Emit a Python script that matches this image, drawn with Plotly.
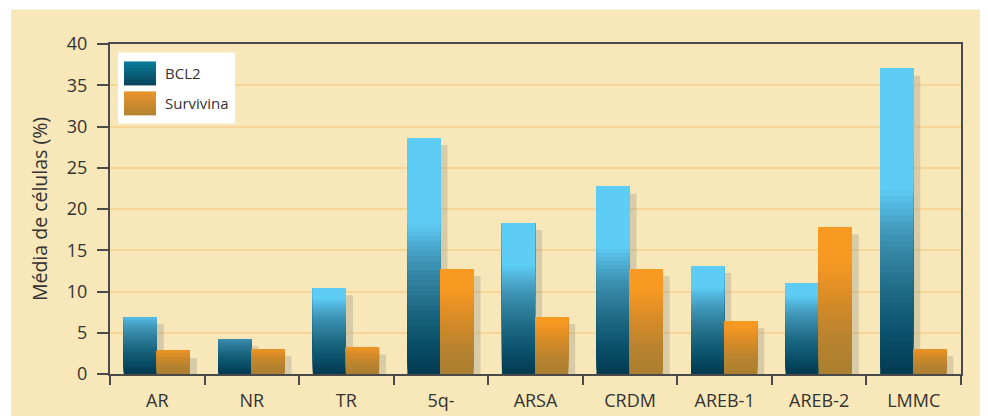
import plotly.graph_objects as go

# ---------------- data ----------------
categories = ["AR", "NR", "TR", "5q-", "ARSA", "CRDM", "AREB-1", "AREB-2", "LMMC"]
bcl2 = [6.9, 4.2, 10.4, 28.6, 18.3, 22.7, 13.1, 11.0, 37.0]
survivina = [2.8, 3.0, 3.2, 12.7, 6.9, 12.7, 6.4, 17.8, 3.0]
series_names = ["BCL2", "Survivina"]
y_ticks = [0, 5, 10, 15, 20, 25, 30, 35, 40]
y_title = "Média de células (%)"

# ---------------- layout geometry / styles ----------------
# page body has an 8px margin; the figure is sized so that the drawing
# lands at the reference pixel positions
OFF = 8
W, H = 988 - OFF, 416 - OFF
PLOT_L, PLOT_R, PLOT_T, PLOT_B = 110, 961, 43.5, 374   # reference pixels
L = PLOT_L - OFF
R = W - (PLOT_R - OFF)
T = PLOT_T - OFF
B = H - (PLOT_B - OFF)
PW, PH = W - L - R, H - T - B
YMAX = 40
FONT = "Open Sans"
TXT = "#333333"
AXC = "#4a4a4a"

def pxx(px):
    return (px - PLOT_L) / PW

def pxy(py):
    return (PLOT_B - py) / PH

def h2r(h):
    h = h.lstrip("#")
    return [int(h[i:i + 2], 16) for i in (0, 2, 4)]

def grad(stops, f):
    f = max(0.0, min(1.0, f))
    for (f0, c0), (f1, c1) in zip(stops, stops[1:]):
        if f <= f1:
            t = (f - f0) / (f1 - f0) if f1 > f0 else 0
            a, b = h2r(c0), h2r(c1)
            return "rgb(%d,%d,%d)" % tuple(round(a[i] + (b[i] - a[i]) * t) for i in range(3))
    return "rgb(%d,%d,%d)" % tuple(h2r(stops[-1][1]))

blue_stops = [(0.0, "#033a50"), (0.2, "#0a4f6a"), (0.4, "#19657f"), (0.6, "#2f7f9d"),
              (0.75, "#3f95b6"), (0.88, "#4fb0d6"), (1.0, "#5ecdf6")]
orange_stops = [(0.0, "#aa7f30"), (0.3, "#b88330"), (0.6, "#d38a28"),
                (0.85, "#ec9325"), (1.0, "#f89a22")]

def blue_top(v):
    return 4 + 0.5 * v

def orange_top(v):
    return 1.5 + 0.7 * v

BAR_W = 0.35
OFFS = [-0.355, -0.005]
CAT_PX = PW / len(categories)
SH_DX = 7 / CAT_PX
SH_DY = 7 / (PH / YMAX)
SHADOW = "rgba(150,148,135,0.33)"
N = 48

fig = go.Figure()

series = [(bcl2, blue_stops, blue_top), (survivina, orange_stops, orange_top)]

# shadows first
for (vals, _, _), off in zip(series, OFFS):
    fig.add_trace(go.Bar(
        x=categories, y=[max(v - SH_DY, 0) for v in vals],
        offset=off + SH_DX, width=BAR_W,
        marker=dict(color=SHADOW, line=dict(width=0)),
        hoverinfo="skip", showlegend=False))

# gradient bars: each layer runs from its base to the bar top, later layers overlay
for (vals, stops, topf), off, name in zip(series, OFFS, series_names):
    for i in range(N):
        bases = [i * v / N for v in vals]
        ys = [v - b for v, b in zip(vals, bases)]
        cols = [grad(stops, ((i + 0.5) * v / N) / topf(v)) for v in vals]
        fig.add_trace(go.Bar(
            x=categories, y=ys, base=bases, offset=off, width=BAR_W,
            marker=dict(color=cols, line=dict(width=0)),
            name=name, showlegend=False, hoverinfo="skip"))

shapes = [
    # cream panel
    dict(type="rect", xref="paper", yref="paper", layer="below",
         x0=pxx(11), x1=pxx(1000), y0=pxy(9), y1=pxy(430),
         fillcolor="#f8e7b8", line=dict(width=0)),
    # legend box
    dict(type="rect", xref="paper", yref="paper", layer="above",
         x0=pxx(118), x1=pxx(235), y0=pxy(52), y1=pxy(123),
         fillcolor="#ffffff", line=dict(width=0)),
]

annotations = []
legend_swatches = [(61, 85, ["#0a7c9a", "#054058"]), (91, 115, ["#e8922a", "#b3822f"])]
for (y0, y1, (ctop, cbot)), name in zip(legend_swatches, series_names):
    steps = 8
    for k in range(steps):
        ya = y0 + (y1 - y0) * k / steps
        yb = y0 + (y1 - y0) * (k + 1) / steps + 0.5
        c = grad([(0, ctop), (1, cbot)], (k + 0.5) / steps)
        shapes.append(dict(type="rect", xref="paper", yref="paper", layer="above",
                           x0=pxx(124), x1=pxx(156), y0=pxy(min(yb, y1)), y1=pxy(ya),
                           fillcolor=c, line=dict(width=0)))
    annotations.append(dict(xref="paper", yref="paper", x=pxx(163), y=pxy((y0 + y1) / 2),
                            text=name, showarrow=False, xanchor="left", yanchor="middle",
                            font=dict(family=FONT, size=15, color=TXT)))

fig.update_layout(
    width=W, height=H,
    margin=dict(l=L, r=R, t=T, b=B, pad=0, autoexpand=False),
    paper_bgcolor="#ffffff",
    plot_bgcolor="#faefd1",
    barmode="overlay",
    showlegend=False,
    shapes=shapes,
    annotations=annotations,
    font=dict(family=FONT, size=18, color=TXT),
    xaxis=dict(
        type="category", range=[-0.5, len(categories) - 0.5], automargin=False,
        tickson="boundaries", ticks="outside", ticklen=9, tickwidth=2, tickcolor=AXC,
        showline=True, linecolor=AXC, linewidth=2, mirror=True,
        showgrid=False, ticklabelstandoff=9,
        tickfont=dict(family=FONT, size=18, color=TXT)),
    yaxis=dict(
        range=[0, YMAX], tickvals=y_ticks, automargin=False,
        ticks="outside", ticklen=11, tickwidth=2, tickcolor=AXC,
        showline=True, linecolor=AXC, linewidth=2, mirror=True,
        showgrid=True, gridcolor="#f7d596", gridwidth=2, zeroline=False,
        ticklabelstandoff=6,
        tickfont=dict(family=FONT, size=18, color=TXT),
        title=dict(text=y_title, standoff=14, font=dict(family=FONT, size=19.5, color=TXT))),
)

fig.write_html("out.html")
